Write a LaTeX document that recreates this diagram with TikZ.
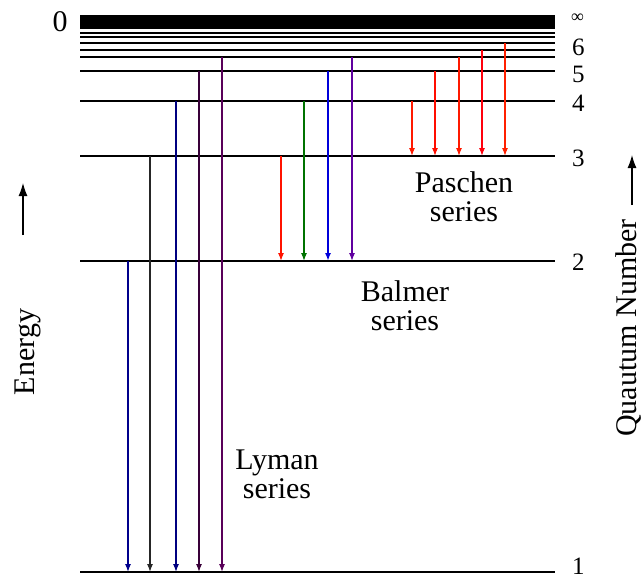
\documentclass[tikz,border=0pt]{standalone}
\usepackage{fontspec}
\setmainfont{Liberation Serif}
\usetikzlibrary{arrows.meta}
\begin{document}
\begin{tikzpicture}[x=1pt,y=-1pt,
  lvl/.style={line width=1.6pt,black},
  thin lvl/.style={line width=1.3pt,black},
  tr/.style={line width=1.2pt,-{Latex[length=8pt,width=6pt]}},
  lab/.style={font=\fontsize{30}{32}\selectfont,inner sep=0pt},
  num/.style={font=\fontsize{25}{27}\selectfont,inner sep=0pt,anchor=west},
  axarr/.style={line width=1.2pt,-{Latex[length=13pt,width=9pt]}}]
\useasboundingbox (0,0) rectangle (642,582);
% level end points
\foreach \n/\y in {1/572,2/261,3/156,4/101,5/71,6/57,7/50,8/43,9/37,10/33}{
  \coordinate (l\n a) at (80,\y);
  \coordinate (l\n b) at (555,\y);
}
\fill[black] (80,15) rectangle (555,29);
\foreach \n in {1,2,3,4,5}{\draw[lvl] (l\n a) -- (l\n b);}
\foreach \n in {6,7,8,9,10}{\draw[thin lvl] (l\n a) -- (l\n b);}
% labels of levels
\node[lab] (zero) at (60,22) {0};
\node[num,font=\fontsize{18}{20}\selectfont] (ninf) at (571,18) {∞};
\node[num] (n6) at (572,47) {6};
\node[num] (n5) at (572,74) {5};
\node[num] (n4) at (572,103) {4};
\node[num] (n3) at (572,158) {3};
\node[num] (n2) at (572,262) {2};
\node[num] (n1) at (572,566) {1};
% Lyman
\foreach \x/\n/\c [count=\i] in {128/2/blue!55!black,150/3/black!85,176/4/blue!50!black,199/5/violet!45!black,222/6/violet!70!black}{
  \coordinate (ly\i s) at (\x,0 |- l\n a);
  \coordinate (ly\i e) at (\x,0 |- l1a);
  \draw[tr,\c] (ly\i s) -- (ly\i e);
}
% Balmer
\foreach \x/\n/\c/\w [count=\i] in {281/3/red!85!orange/1.2pt,304/4/green!45!black/1.2pt,328/5/blue!85!black/2.2pt,352/6/violet!75!blue/1.2pt}{
  \coordinate (ba\i s) at (\x,0 |- l\n a);
  \coordinate (ba\i e) at (\x,0 |- l2a);
  \draw[tr,\c,line width=\w] (ba\i s) -- (ba\i e);
}
% Paschen
\foreach \x/\n/\c [count=\i] in {412/4/red!80!orange,435/5/red!90!orange,459/6/red!80!orange,482/7/red!95!magenta,505/8/red!75!orange}{
  \coordinate (pa\i s) at (\x,0 |- l\n a);
  \coordinate (pa\i e) at (\x,0 |- l3a);
  \draw[tr,\c] (pa\i s) -- (pa\i e);
}
% series labels
\node[lab,align=center] (pas) at (464,197) {Paschen\\[-3pt]series};
\node[lab,align=center] (bal) at (405,306) {Balmer\\[-3pt]series};
\node[lab,align=center] (lym) at (277,474) {Lyman\\[-3pt]series};
% axis labels
\node[lab,rotate=90] (energy) at (28,352) {Energy};
\coordinate (ea) at (23,235);
\coordinate (eb) at (23,183);
\draw[axarr] (ea) -- (eb);
\node[lab,rotate=90] (qn) at (629,328) {Quautum Number};
\coordinate (qa) at (632,205);
\coordinate (qb) at (632,155);
\draw[axarr] (qa) -- (qb);
\end{tikzpicture}
\end{document}
